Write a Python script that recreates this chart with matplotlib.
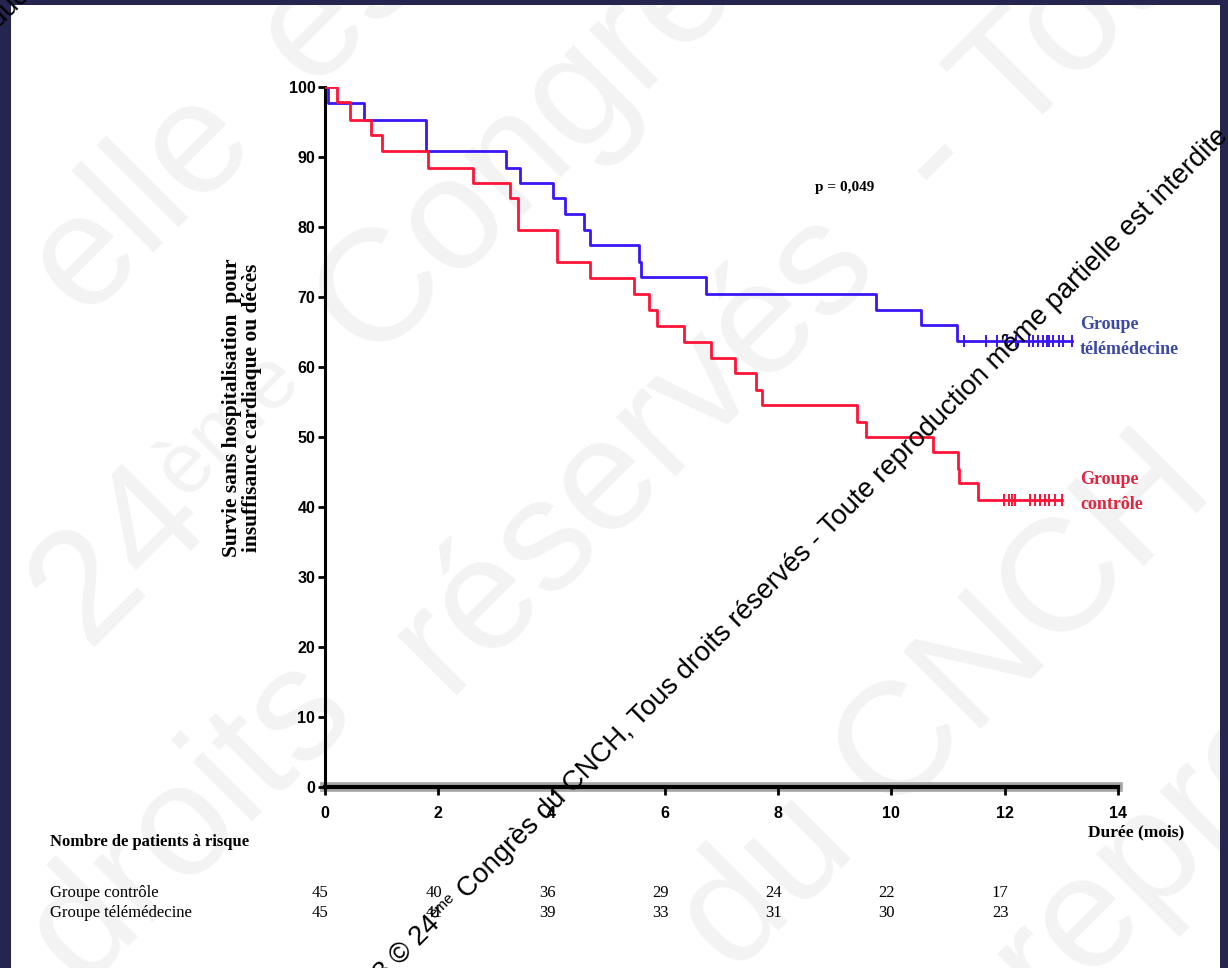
import matplotlib
matplotlib.use("Agg")
import matplotlib.pyplot as plt
from matplotlib.patches import Rectangle
from matplotlib.transforms import IdentityTransform
import numpy as np

# ---------------- data ----------------
x_ticks = [0, 2, 4, 6, 8, 10, 12, 14]
y_ticks = [0, 10, 20, 30, 40, 50, 60, 70, 80, 90, 100]

tele_t = [0, 0.06, 0.69, 1.78, 3.19, 3.44, 4.03, 4.23, 4.57, 4.67, 5.54, 5.57,
          6.73, 9.72, 10.53, 11.16, 13.18]
tele_s = [100, 97.7, 95.3, 90.9, 88.5, 86.3, 84.2, 81.9, 79.6, 77.4, 75.0, 72.8,
          70.5, 68.1, 66.0, 63.7, 63.7]
tele_cens = [11.29, 11.67, 11.86, 12.04, 12.2, 12.42, 12.5, 12.59, 12.68, 12.74,
             12.79, 12.86, 12.95, 13.03, 13.18]

ctrl_t = [0, 0.22, 0.45, 0.82, 1.0, 1.81, 2.62, 3.27, 3.41, 4.09, 4.67, 5.46,
          5.72, 5.87, 6.33, 6.82, 7.24, 7.61, 7.71, 9.39, 9.55, 10.74, 11.17,
          11.19, 11.52, 13.02]
ctrl_s = [100, 97.8, 95.3, 93.1, 90.9, 88.5, 86.3, 84.2, 79.6, 75.0, 72.7, 70.4,
          68.1, 65.9, 63.6, 61.3, 59.1, 56.7, 54.6, 52.2, 50.0, 47.8, 45.5,
          43.4, 41.0, 41.0]
ctrl_cens = [11.98, 12.07, 12.12, 12.18, 12.45, 12.54, 12.62, 12.71, 12.79,
             12.89, 13.02]

risk_times = [0, 2, 4, 6, 8, 10, 12]
risk_ctrl = [45, 40, 36, 29, 24, 22, 17]
risk_tele = [45, 41, 39, 33, 31, 30, 23]
row_labels = ["Groupe contrôle", "Groupe télémédecine"]

# ---------------- styling ----------------
W, H = 1228, 968
NAVY = "#25254f"
BLUE = "#3a16f5"
RED = "#ff1438"
BLUE_TXT = "#3c4aa6"
RED_TXT = "#e0253f"
SERIF = ["Liberation Serif", "DejaVu Serif"]
NARROW = ["Liberation Sans Narrow", "Liberation Sans", "DejaVu Sans"]
SANS = ["Liberation Sans", "DejaVu Sans"]
FAINT = "#f3f3f3"

fig = plt.figure(figsize=(W / 100, H / 100), dpi=100)
fig.patch.set_facecolor("white")
ID = IdentityTransform()


def P(x, ytop):
    return x, H - ytop


# faint background watermark words
faint_words = [
    ("elle", 140, 200, 115), ("est", 356, -16, 115),
    ("24", 120, 555, 115), ("ème", 228, 425, 62),
    ("Congrès", 553, 117, 115),
    ("droits", 190, 820, 115), ("réservés", 633, 450, 115),
    ("- Toute", 1090, 10, 115),
    ("du CNCH", 946, 706, 115), ("reproduction", 1330, 670, 115),
]
for s, x, y, fs in faint_words:
    fig.text(*P(x, y), s, transform=ID, rotation=45, rotation_mode="anchor",
             ha="center", va="center", fontsize=fs, family=SANS, color=FAINT,
             zorder=-3)

# navy frame
for (x0, y0, w, h) in [(0, 0, 11, H), (0, H - 5, W, 5), (1220, 0, 8, H)]:
    fig.patches.append(Rectangle((x0, y0), w, h, transform=ID, facecolor=NAVY,
                                 edgecolor="none", zorder=-1))

# ---------------- axes ----------------
ax = fig.add_axes([325 / W, 1 - 787 / H, (1118 - 325) / W, 700 / H])
ax.patch.set_visible(False)
ax.set_xlim(0, 14)
ax.set_ylim(0, 100)

ax.step(tele_t, tele_s, where="post", color=BLUE, lw=2.0, zorder=3)
ax.step(ctrl_t, ctrl_s, where="post", color=RED, lw=2.0, zorder=3)
ax.plot(tele_cens, [tele_s[-1]] * len(tele_cens), ls="none", marker="|",
        ms=8, mew=1.4, color=BLUE, zorder=3)
ax.plot(ctrl_cens, [ctrl_s[-1]] * len(ctrl_cens), ls="none", marker="|",
        ms=8, mew=1.4, color=RED, zorder=3)

for sp in ["top", "right"]:
    ax.spines[sp].set_visible(False)
ax.spines["left"].set_linewidth(2.2)
ax.spines["bottom"].set_linewidth(3.0)
ax.axhline(0, color="#a8a8a8", lw=7, zorder=1, clip_on=False)

ax.set_xticks(x_ticks)
ax.set_yticks(y_ticks)
ax.tick_params(axis="y", direction="out", length=5, width=2, pad=2)
ax.tick_params(axis="x", direction="out", length=6, width=2, pad=8)
for lab in ax.get_yticklabels() + ax.get_xticklabels():
    lab.set_family(NARROW)
    lab.set_fontweight("bold")
    lab.set_fontsize(11.5)

# texts
fig.text(*P(242, 408), "Survie sans hospitalisation  pour\ninsuffisance cardiaque ou décès",
         transform=ID, rotation=90, ha="center", va="center", multialignment="center",
         fontsize=15.5, fontweight="bold", family=SERIF, linespacing=1.05)
fig.text(*P(845, 188), "p = 0,049", transform=ID, ha="center", va="center",
         fontsize=11, fontweight="bold", family=SERIF)
fig.text(*P(1080, 337), "Groupe\ntélémédecine", transform=ID, ha="left", va="center",
         fontsize=13, fontweight="bold", family=SERIF, color=BLUE_TXT, linespacing=1.6)
fig.text(*P(1080, 492), "Groupe\ncontrôle", transform=ID, ha="left", va="center",
         fontsize=13, fontweight="bold", family=SERIF, color=RED_TXT, linespacing=1.6)
fig.text(*P(1136, 832), "Durée (mois)", transform=ID, ha="center", va="center",
         fontsize=12.5, fontweight="bold", family=SERIF)
fig.text(*P(50, 842), "Nombre de patients à risque", transform=ID, ha="left",
         va="center", fontsize=12, fontweight="bold", family=SERIF)

row_y = [893, 913]
for lab, yy in zip(row_labels, row_y):
    fig.text(*P(50, yy), lab, transform=ID, ha="left", va="center",
             fontsize=12, family=SERIF)
xt = ax.get_xaxis_transform()
for vals, yy in zip([risk_ctrl, risk_tele], row_y):
    ya = (787 - yy) / 700
    for t, v in zip(risk_times, vals):
        ax.text(t - 0.08, ya, str(v), transform=xt, ha="center", va="center",
                fontsize=12, family=SERIF, clip_on=False)

# ---------------- black diagonal watermark ----------------
r = fig.canvas.get_renderer()
WM_FS = 19.8
part1 = "2018 © 24"
part2 = "ème"
part3 = " Congrès du CNCH, Tous droits réservés - Toute reproduction même partielle est interdite"


def tw(s, fs):
    t = fig.text(0, 0, s, fontsize=fs, family=SANS)
    w = t.get_window_extent(r).width
    t.remove()
    return w


w1, w2, w3 = tw(part1, WM_FS), tw(part2, WM_FS * 0.55), tw(part3, WM_FS)
c = np.cos(np.pi / 4)
ex, ey = P(1229, 137)
tot = w1 + w2 + w3
sx, sy = ex - tot * c, ey - tot * c
kw = dict(transform=ID, rotation=45, rotation_mode="anchor", ha="left",
          va="baseline", family=SANS, color="black", zorder=10)
fig.text(sx, sy, part1, fontsize=WM_FS, **kw)
raise_px = WM_FS * 0.45
fig.text(sx + w1 * c - raise_px * c, sy + w1 * c + raise_px * c, part2,
         fontsize=WM_FS * 0.55, **kw)
fig.text(sx + (w1 + w2) * c, sy + (w1 + w2) * c, part3, fontsize=WM_FS, **kw)

fig.text(*P(2, 14), "reproduction", transform=ID, rotation=45, rotation_mode="anchor",
         ha="center", va="center", family=SANS, fontsize=WM_FS, color="black", zorder=10)

fig.savefig("out.png", dpi=100)
